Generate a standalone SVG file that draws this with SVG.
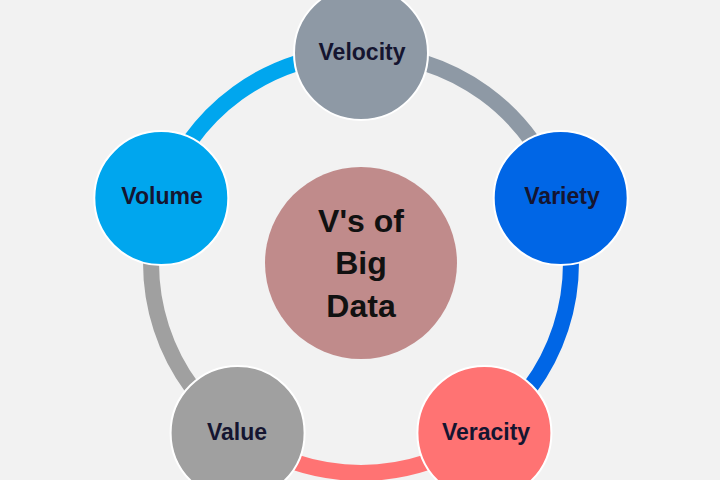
<svg xmlns="http://www.w3.org/2000/svg" width="720" height="480" viewBox="0 0 720 480">
<style>
.arc{fill:none;stroke-width:16}
.node{stroke:#ffffff;stroke-width:2}
.lbl{font-family:"Liberation Sans",Arial,sans-serif;font-weight:bold;font-size:23px;fill:#151530;text-anchor:middle}
.ctr{font-family:"Liberation Sans",Arial,sans-serif;font-weight:bold;font-size:32px;fill:#111111;text-anchor:middle}
</style>
<rect width="720" height="480" fill="#f2f2f2"/>
<g id="connectors">
<path class="arc" stroke="#8e99a5" d="M361,53 A210,210 0 0 1 560.7,198.1"/>
<path class="arc" stroke="#0066e6" d="M560.7,198.1 A210,210 0 0 1 484.4,432.9"/>
<path class="arc" stroke="#ff7373" d="M484.4,432.9 A210,210 0 0 1 237.6,432.9"/>
<path class="arc" stroke="#a0a0a0" d="M237.6,432.9 A210,210 0 0 1 161.3,198.1"/>
<path class="arc" stroke="#00a6ee" d="M161.3,198.1 A210,210 0 0 1 361,53"/>
</g>
<g id="center">
<circle cx="361" cy="263" r="96" fill="#c08b8b"/>
<text class="ctr" x="361" y="232">V's of</text>
<text class="ctr" x="361" y="274">Big</text>
<text class="ctr" x="361" y="317">Data</text>
</g>
<g id="velocity">
<circle class="node" cx="361" cy="53" r="67" fill="#8e99a5"/>
<text class="lbl" x="362" y="60">Velocity</text>
</g>
<g id="variety">
<circle class="node" cx="560.7" cy="198.1" r="67" fill="#0066e6"/>
<text class="lbl" x="562" y="204">Variety</text>
</g>
<g id="veracity">
<circle class="node" cx="484.4" cy="432.9" r="67" fill="#ff7373"/>
<text class="lbl" x="486" y="440">Veracity</text>
</g>
<g id="value">
<circle class="node" cx="237.6" cy="432.9" r="67" fill="#a0a0a0"/>
<text class="lbl" x="237" y="440">Value</text>
</g>
<g id="volume">
<circle class="node" cx="161.3" cy="198.1" r="67" fill="#00a6ee"/>
<text class="lbl" x="162" y="204">Volume</text>
</g>
</svg>
